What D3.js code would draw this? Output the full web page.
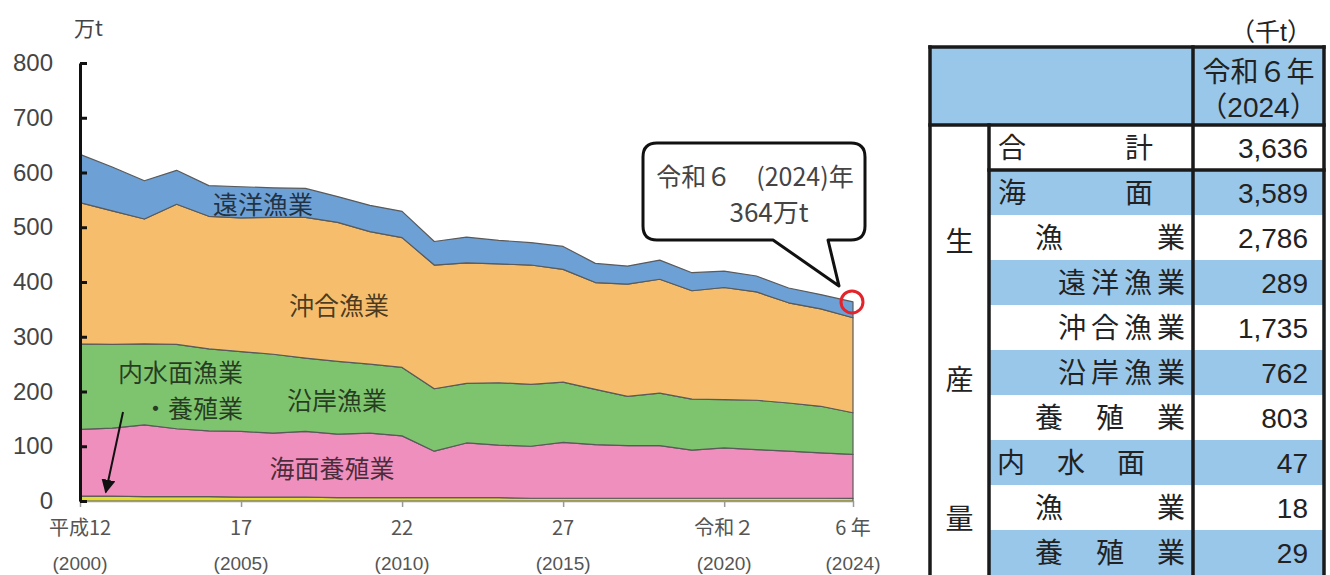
<!DOCTYPE html>
<html>
<head>
<meta charset="utf-8">
<script src="https://cdn.jsdelivr.net/npm/d3@7"></script>
<style>
  body { margin: 0; background: #fff; }
  svg { display: block; }
  text { font-family: "Liberation Sans", "Noto Sans CJK JP", sans-serif; }
  .jp { font-family: "Noto Sans CJK JP", sans-serif; }
</style>
</head>
<body>
<div id="chart-container"></div>
<script>
// years on the x axis
const years = [2000, 2001, 2002, 2003, 2004, 2005, 2006, 2007, 2008, 2009, 2010, 2011, 2012,
  2013, 2014, 2015, 2016, 2017, 2018, 2019, 2020, 2021, 2022, 2023, 2024];

// production by sector, 万t (bottom to top of the stack)
const inland = [9, 9, 8, 8, 8, 7, 7, 7, 6, 6, 6, 6, 6, 6, 5, 5, 5, 5, 5, 5, 5, 5, 5, 5, 4.7];
const marineAqua = [122, 124, 131, 124, 120, 120, 117, 120, 116, 118, 113, 85, 100, 96, 95, 102,
  98, 96, 96, 88, 92, 89, 86, 83, 80.3];
const coastal = [156, 153, 148, 154, 150, 146, 144, 134, 133, 126, 125, 114, 109, 114, 113, 110,
  101, 90, 96, 93, 88, 90, 88, 85, 76.2];
const offshore = [258, 244, 228, 256, 242, 244, 250, 257, 254, 242, 237, 226, 220, 217, 218, 206,
  195, 205, 208, 198, 205, 198, 183, 178, 173.5];
const distant = [88, 80, 70, 62, 56, 57, 54, 53, 47, 48, 48, 43, 47, 43, 41, 42, 35, 33, 35, 33,
  30, 29, 27, 26, 28.9];

const seriesKeys = ['inland', 'marineAqua', 'coastal', 'offshore', 'distant'];
const seriesColors = ['#e4dd2c', '#ef8fbe', '#7ec46e', '#f6be6c', '#6da0d5'];

// axis ticks
const yTicks = [0, 100, 200, 300, 400, 500, 600, 700, 800];
const xTickYears = [2000, 2005, 2010, 2015, 2020, 2024];
const xTickEra = ['平成12', '17', '22', '27', '令和２', '6 年'];
const xTickWestern = ['(2000)', '(2005)', '(2010)', '(2015)', '(2020)', '(2024)'];

// table on the right (千t)
const tableLabels = ['合計', '海面', '漁業', '遠洋漁業', '沖合漁業', '沿岸漁業', '養殖業',
  '内水面', '漁業', '養殖業'];
const tableValues = [3636, 3589, 2786, 289, 1735, 762, 803, 47, 18, 29];

const W = 1330;
const H = 575;

const svg = d3.select('#chart-container')
    .append('svg')
    .attr('width', W)
    .attr('height', H);

const x = d3.scaleLinear().domain([2000, 2024]).range([80, 853]);
const y = d3.scaleLinear().domain([0, 800]).range([501, 63]);

// stacked areas
const rows = years.map((yr, i) => ({
  year: yr,
  inland: inland[i],
  marineAqua: marineAqua[i],
  coastal: coastal[i],
  offshore: offshore[i],
  distant: distant[i],
}));
const stacked = d3.stack().keys(seriesKeys)(rows);

const area = d3.area()
    .x((d) => x(d.data.year))
    .y0((d) => y(d[0]))
    .y1((d) => y(d[1]));

svg.append('g')
    .selectAll('path')
    .data(stacked)
    .join('path')
    .attr('d', area)
    .attr('fill', (d, i) => seriesColors[i])
    .attr('stroke', '#5a5a5a')
    .attr('stroke-width', 1.2)
    .attr('stroke-linejoin', 'round');

// x axis
const xAxis = svg.append('g')
    .attr('transform', `translate(0, ${y(0)})`)
    .call(d3.axisBottom(x).tickValues(xTickYears).tickSize(6).tickSizeOuter(0).tickFormat(''));
xAxis.select('.domain').attr('stroke', '#999').attr('stroke-width', 1.5);
xAxis.selectAll('.tick line').attr('stroke', '#999').attr('stroke-width', 1.5);

svg.append('g')
    .selectAll('text')
    .data(xTickYears)
    .join('text')
    .attr('class', 'jp')
    .attr('x', (d) => x(d))
    .attr('y', 535)
    .attr('text-anchor', 'middle')
    .attr('font-size', 20)
    .attr('fill', '#555')
    .text((d, i) => xTickEra[i]);

svg.append('g')
    .selectAll('text')
    .data(xTickYears)
    .join('text')
    .attr('x', (d) => x(d))
    .attr('y', 570)
    .attr('text-anchor', 'middle')
    .attr('font-size', 19)
    .attr('fill', '#555')
    .text((d, i) => xTickWestern[i]);

// y axis: black line, ticks to the right, labels on the left
const yAxis = svg.append('g')
    .attr('transform', `translate(${x(2000)}, 0)`)
    .call(d3.axisLeft(y).tickValues(yTicks).tickSizeInner(-7).tickSizeOuter(0).tickPadding(27));
yAxis.select('.domain').attr('stroke', '#111').attr('stroke-width', 3);
yAxis.selectAll('.tick line').attr('stroke', '#111').attr('stroke-width', 3);
yAxis.selectAll('.tick text')
    .attr('font-size', 24)
    .attr('fill', '#444');

svg.append('text')
    .attr('class', 'jp')
    .attr('x', 74)
    .attr('y', 36)
    .attr('font-size', 21)
    .attr('fill', '#444')
    .text('万t');

// area labels
const labelFill = 'rgba(0,0,0,0.7)';
const areaLabels = [
  {t: '遠洋漁業', x: 263, y: 214, a: 'middle'},
  {t: '沖合漁業', x: 339, y: 315, a: 'middle'},
  {t: '沿岸漁業', x: 337, y: 410, a: 'middle'},
  {t: '海面養殖業', x: 332, y: 478, a: 'middle'},
  {t: '内水面漁業', x: 243, y: 382, a: 'end'},
  {t: '・養殖業', x: 243, y: 418, a: 'end'},
];
svg.append('g')
    .selectAll('text')
    .data(areaLabels)
    .join('text')
    .attr('class', 'jp')
    .attr('x', (d) => d.x)
    .attr('y', (d) => d.y)
    .attr('text-anchor', (d) => d.a)
    .attr('font-size', 25)
    .attr('fill', labelFill)
    .text((d) => d.t);

// arrow to the thin inland band
svg.append('defs').append('marker')
    .attr('id', 'arrowhead')
    .attr('viewBox', '0 0 10 10')
    .attr('refX', 9)
    .attr('refY', 5)
    .attr('markerWidth', 7)
    .attr('markerHeight', 7)
    .attr('orient', 'auto')
    .append('path')
    .attr('d', 'M0,0 L10,5 L0,10 z')
    .attr('fill', '#111');

svg.append('line')
    .attr('x1', 123)
    .attr('y1', 412)
    .attr('x2', x(2000.8))
    .attr('y2', y(16))
    .attr('stroke', '#111')
    .attr('stroke-width', 2)
    .attr('marker-end', 'url(#arrowhead)');

// callout for 2024 total
const total2024 = d3.sum(seriesKeys, (k) => rows[rows.length - 1][k]);
const cx = x(2024);
const cy = y(total2024);
const bx0 = 643;
const bx1 = 865;
const by0 = 143;
const by1 = 240;
const r = 14;
const calloutPath = d3.path();
calloutPath.moveTo(bx0 + r, by0);
calloutPath.lineTo(bx1 - r, by0);
calloutPath.quadraticCurveTo(bx1, by0, bx1, by0 + r);
calloutPath.lineTo(bx1, by1 - r);
calloutPath.quadraticCurveTo(bx1, by1, bx1 - r, by1);
calloutPath.lineTo(828, by1);
calloutPath.lineTo(cx - 14, cy - 16);
calloutPath.lineTo(773, by1);
calloutPath.lineTo(bx0 + r, by1);
calloutPath.quadraticCurveTo(bx0, by1, bx0, by1 - r);
calloutPath.lineTo(bx0, by0 + r);
calloutPath.quadraticCurveTo(bx0, by0, bx0 + r, by0);
calloutPath.closePath();

svg.append('path')
    .attr('d', calloutPath.toString())
    .attr('fill', '#fff')
    .attr('stroke', '#111')
    .attr('stroke-width', 3)
    .attr('stroke-linejoin', 'round');

svg.append('text')
    .attr('class', 'jp')
    .attr('x', 755)
    .attr('y', 186)
    .attr('text-anchor', 'middle')
    .attr('font-size', 25)
    .attr('fill', '#444')
    .text('令和６　(2024)年');

svg.append('text')
    .attr('class', 'jp')
    .attr('x', 769)
    .attr('y', 222)
    .attr('text-anchor', 'middle')
    .attr('font-size', 26)
    .attr('fill', '#444')
    .text(`${Math.round(total2024)}万t`);

svg.append('circle')
    .attr('cx', cx - 1)
    .attr('cy', cy)
    .attr('r', 11)
    .attr('fill', 'none')
    .attr('stroke', '#e3242b')
    .attr('stroke-width', 3);

// ---- table ----
const tL = 930;
const tR = 1324;
const tTop = 47;
const tHead = 125;
const rowH = 45;
const cSub = 989;
const cVal = 1193;
const blue = '#98c7ea';
const tFont = 28;

const tbl = svg.append('g').attr('class', 'jp');

tbl.append('text')
    .attr('x', 1312)
    .attr('y', 41)
    .attr('text-anchor', 'end')
    .attr('font-size', 25)
    .attr('fill', '#222')
    .text('（千t）');

tbl.append('rect')
    .attr('x', tL).attr('y', tTop)
    .attr('width', tR - tL).attr('height', tHead - tTop)
    .attr('fill', blue);

tbl.selectAll('rect.row')
    .data(tableLabels)
    .join('rect')
    .attr('class', 'row')
    .attr('x', cSub)
    .attr('y', (d, i) => tHead + i * rowH)
    .attr('width', tR - cSub)
    .attr('height', rowH)
    .attr('fill', (d, i) => (i % 2 === 1 ? blue : '#fff'));

tbl.append('text')
    .attr('x', (cVal + tR) / 2)
    .attr('y', 82)
    .attr('text-anchor', 'middle')
    .attr('font-size', tFont)
    .attr('fill', '#222')
    .text('令和６年');
tbl.append('text')
    .attr('x', (cVal + tR) / 2)
    .attr('y', 117)
    .attr('text-anchor', 'middle')
    .attr('font-size', tFont)
    .attr('fill', '#222')
    .text('（2024）');

// left and right edges of each label (characters spread between them)
const labelSpan = [
  [998, 1153], [998, 1153], [1035, 1185], [1058, 1185], [1058, 1185],
  [1058, 1185], [1035, 1185], [997, 1145], [1035, 1185], [1035, 1185],
];
const cw = 28;
tableLabels.forEach((lab, i) => {
  const chars = Array.from(lab);
  const [L, R] = labelSpan[i];
  const step = chars.length > 1 ? (R - L - cw) / (chars.length - 1) : 0;
  tbl.append('g')
      .selectAll('text')
      .data(chars)
      .join('text')
      .attr('x', (c, j) => L + j * step)
      .attr('y', tHead + i * rowH + 33)
      .attr('font-size', tFont)
      .attr('fill', '#222')
      .text((c) => c);
});

tbl.selectAll('text.val')
    .data(tableValues)
    .join('text')
    .attr('class', 'val')
    .attr('x', 1308)
    .attr('y', (d, i) => tHead + i * rowH + 33)
    .attr('text-anchor', 'end')
    .attr('font-size', tFont)
    .attr('fill', '#222')
    .text((d) => d3.format(',')(d));

const sideChars = [{c: '生', y: 252}, {c: '産', y: 390}, {c: '量', y: 529}];
tbl.selectAll('text.side')
    .data(sideChars)
    .join('text')
    .attr('class', 'side')
    .attr('x', (tL + cSub) / 2)
    .attr('y', (d) => d.y)
    .attr('text-anchor', 'middle')
    .attr('font-size', tFont)
    .attr('fill', '#222')
    .text((d) => d.c);

// borders
const borders = [
  [tL, tTop, tR, tTop],
  [tL, tTop, tL, H + 5],
  [tR, tTop, tR, H + 5],
  [tL, tHead, tR, tHead],
  [cSub, tHead, cSub, H + 5],
  [cVal, tTop, cVal, H + 5],
  [cSub, tHead + rowH, tR, tHead + rowH],
];
tbl.selectAll('line')
    .data(borders)
    .join('line')
    .attr('x1', (d) => d[0])
    .attr('y1', (d) => d[1])
    .attr('x2', (d) => d[2])
    .attr('y2', (d) => d[3])
    .attr('stroke', '#1a1a1a')
    .attr('stroke-width', 3.5)
    .attr('stroke-linecap', 'square');
</script>
</body>
</html>
